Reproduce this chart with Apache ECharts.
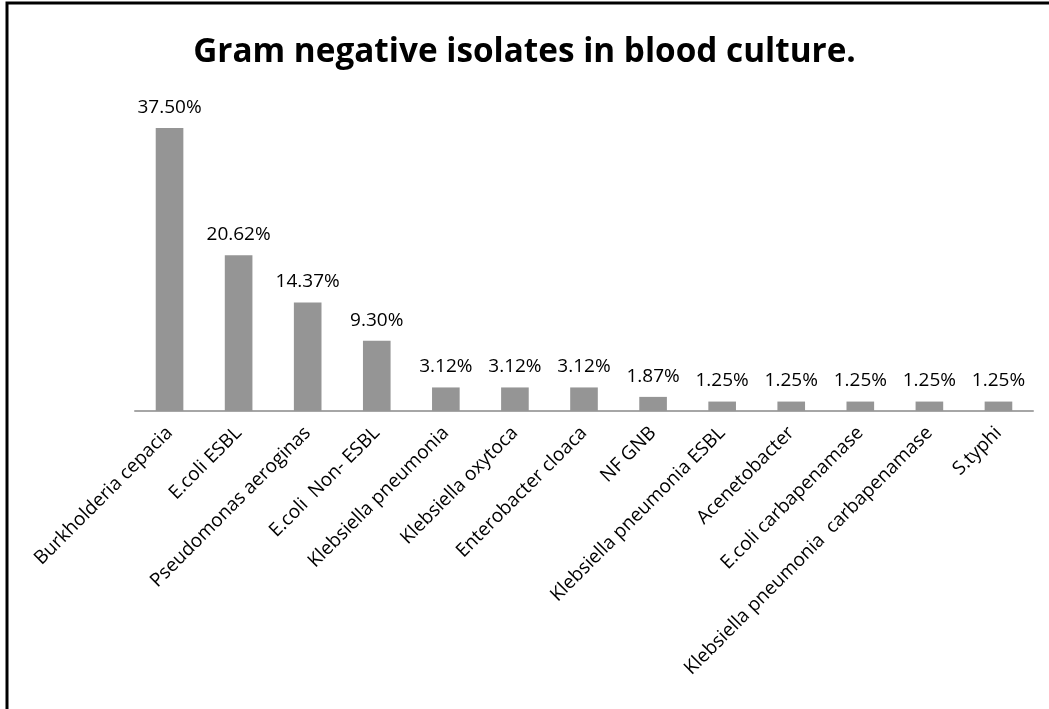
<!DOCTYPE html>
<html>
<head>
<meta charset="utf-8">
<script src="https://cdn.jsdelivr.net/npm/echarts@6/dist/echarts.min.js"></script>
<style>
html,body{margin:0;padding:0;background:#fff;}
#chart{width:1049px;height:709px;}
</style>
</head>
<body>
<div id="chart"></div>
<script>
const titleText = 'Gram negative isolates in blood culture.';
const categories = [
  'Burkholderia cepacia',
  'E.coli ESBL',
  'Pseudomonas aeroginas',
  'E.coli  Non- ESBL',
  'Klebsiella pneumonia',
  'Klebsiella oxytoca',
  'Enterobacter cloaca',
  'NF GNB',
  'Klebsiella pneumonia ESBL',
  'Acenetobacter',
  'E.coli carbapenamase',
  'Klebsiella pneumonia  carbapenamase',
  'S.typhi'
];
const percentValues = [37.50, 20.62, 14.37, 9.30, 3.12, 3.12, 3.12, 1.87, 1.25, 1.25, 1.25, 1.25, 1.25];

const chart = echarts.init(document.getElementById('chart'));
const FONT = '"Open Sans"';
chart.setOption({
  animation: false,
  backgroundColor: '#ffffff',
  title: {
    text: titleText,
    left: 'center',
    top: 31,
    textStyle: { fontFamily: FONT, fontWeight: 'bold', fontSize: 33.3, color: '#000' }
  },
  graphic: [{
    type: 'rect',
    shape: { x: 7, y: 3, width: 1200, height: 900 },
    style: { fill: 'none', stroke: '#000', lineWidth: 3 },
    silent: true
  }],
  grid: { left: 135, right: 16, top: 109, bottom: 298 },
  xAxis: {
    type: 'category',
    data: categories,
    axisLine: { lineStyle: { color: '#a6a6a6', width: 2 } },
    axisTick: { show: false },
    axisLabel: {
      interval: 0,
      rotate: 45,
      margin: 19,
      fontFamily: FONT,
      fontSize: 19,
      color: '#000'
    }
  },
  yAxis: {
    type: 'value',
    min: 0,
    max: 40,
    show: false
  },
  series: [{
    type: 'bar',
    data: percentValues,
    barCategoryGap: '60%',
    itemStyle: { color: '#959595' },
    label: {
      show: true,
      position: 'top',
      distance: 11,
      formatter: p => p.value.toFixed(2) + '%',
      fontFamily: FONT,
      fontSize: 19,
      color: '#000'
    }
  }]
});
</script>
</body>
</html>
